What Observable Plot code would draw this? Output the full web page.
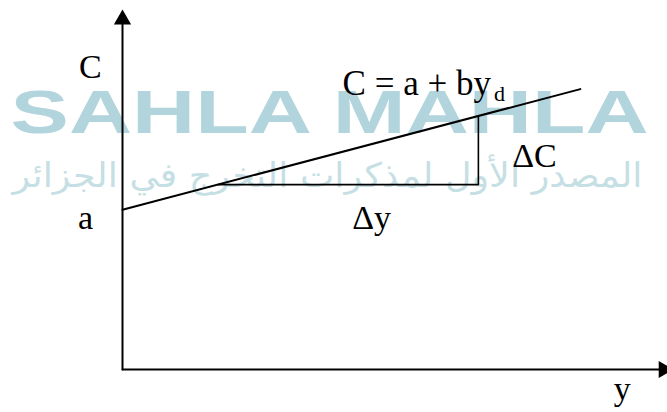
<!DOCTYPE html>
<html>
<head>
<meta charset="utf-8">
<script src="https://cdn.jsdelivr.net/npm/d3@7"></script>
<script src="https://cdn.jsdelivr.net/npm/@observablehq/plot@0.6"></script>
<style>
  html, body { margin: 0; padding: 0; background: #fff; overflow: hidden; }
  #chart svg { display: block; }
</style>
</head>
<body>
<div id="chart"></div>
<script>
// ---- data (income y on x, consumption C on y; abstract units 0..100) ----
const consX = [0, 84];            // disposable income at line ends
const consC = [44.5, 78.1];       // consumption C = a + b*yd at those ends
const triX = [17.5, 65.3, 65.3];  // Δy run then ΔC rise
const triC = [51.5, 51.5, 70.6];
const axisVX = [0, 0];
const axisVY = [0, 97.5];
const axisHX = [0, 99.3];
const axisHY = [0, 0];
const arrowX = [0, 99.3];
const arrowY = [97.5, 0];
const arrowRot = [0, 90];

const labelText = ["C", "a", "Δy", "ΔC", "y"];
const labelX = [-5.9, -6.8, 45.7, 75.6, 91.7];
const labelY = [81.3, 39.0, 39.0, 56.3, -8.4];

const eqText = ["C = a + by"];
const eqSub = ["d"];
const eqX = [67.6];
const eqY = [76.6];
const subY = [74.9];

const wmText = ["SAHLA MAHLA"];
const wmX = [38.0];
const wmY = [66.0];
const arText = ["المصدر الأول لمذكرات التخرج في الجزائر"];
const arX = [37.6];
const arY = [50.7];

const serif = "Liberation Serif, Times New Roman, serif";

const svg = Plot.plot({
  width: 667,
  height: 412,
  marginLeft: 122,
  marginRight: 0,
  marginTop: 10,
  marginBottom: 43,
  x: {domain: [0, 100], axis: null},
  y: {domain: [0, 100], axis: null},
  style: {background: "#fff", overflow: "visible"},
  marks: [
    Plot.text(wmText, {x: (d, i) => wmX[i], y: (d, i) => wmY[i], text: d => d,
      fontFamily: "Liberation Sans, Arial, sans-serif", fontSize: 61, fontWeight: "bold", fill: "#b2d4dc",
      textAnchor: "middle", lineAnchor: "bottom"}),
    Plot.text(arText, {x: (d, i) => arX[i], y: (d, i) => arY[i], text: d => d,
      fontFamily: "DejaVu Sans, sans-serif", fontSize: 34, fill: "#c6dfe4",
      textAnchor: "middle", lineAnchor: "bottom"}),
    Plot.line(axisVX.map((x, i) => [x, axisVY[i]]), {x: d => d[0], y: d => d[1], stroke: "#000", strokeWidth: 2}),
    Plot.line(axisHX.map((x, i) => [x, axisHY[i]]), {x: d => d[0], y: d => d[1], stroke: "#000", strokeWidth: 2}),
    Plot.dot(arrowX.map((x, i) => [x, arrowY[i], arrowRot[i]]), {x: d => d[0], y: d => d[1], rotate: d => d[2],
      symbol: "triangle", r: 6.4, fill: "#000", stroke: "none"}),
    Plot.line(consX.map((x, i) => [x, consC[i]]), {x: d => d[0], y: d => d[1], stroke: "#000", strokeWidth: 2}),
    Plot.line(triX.map((x, i) => [x, triC[i]]), {x: d => d[0], y: d => d[1], stroke: "#000", strokeWidth: 1.6}),
    Plot.text(labelText, {x: (d, i) => labelX[i], y: (d, i) => labelY[i], text: d => d,
      fontFamily: serif, fontSize: 34, fill: "#000", textAnchor: "middle", lineAnchor: "bottom"}),
    Plot.text(eqText, {x: (d, i) => eqX[i], y: (d, i) => eqY[i], text: d => d,
      fontFamily: serif, fontSize: 35, fill: "#000", textAnchor: "end", lineAnchor: "bottom"}),
    Plot.text(eqSub, {x: (d, i) => eqX[i], y: (d, i) => subY[i], text: d => d, dx: 3,
      fontFamily: serif, fontSize: 22, fill: "#000", textAnchor: "start", lineAnchor: "bottom"})
  ]
});

d3.select(svg).selectAll("text").each(function () {
  const t = this.textContent;
  if (t === wmText[0]) {
    d3.select(this).attr("textLength", 638).attr("lengthAdjust", "spacingAndGlyphs");
  } else if (t === arText[0]) {
    d3.select(this).attr("textLength", 630).attr("lengthAdjust", "spacingAndGlyphs");
  }
});

document.getElementById("chart").appendChild(svg);
</script>
</body>
</html>
